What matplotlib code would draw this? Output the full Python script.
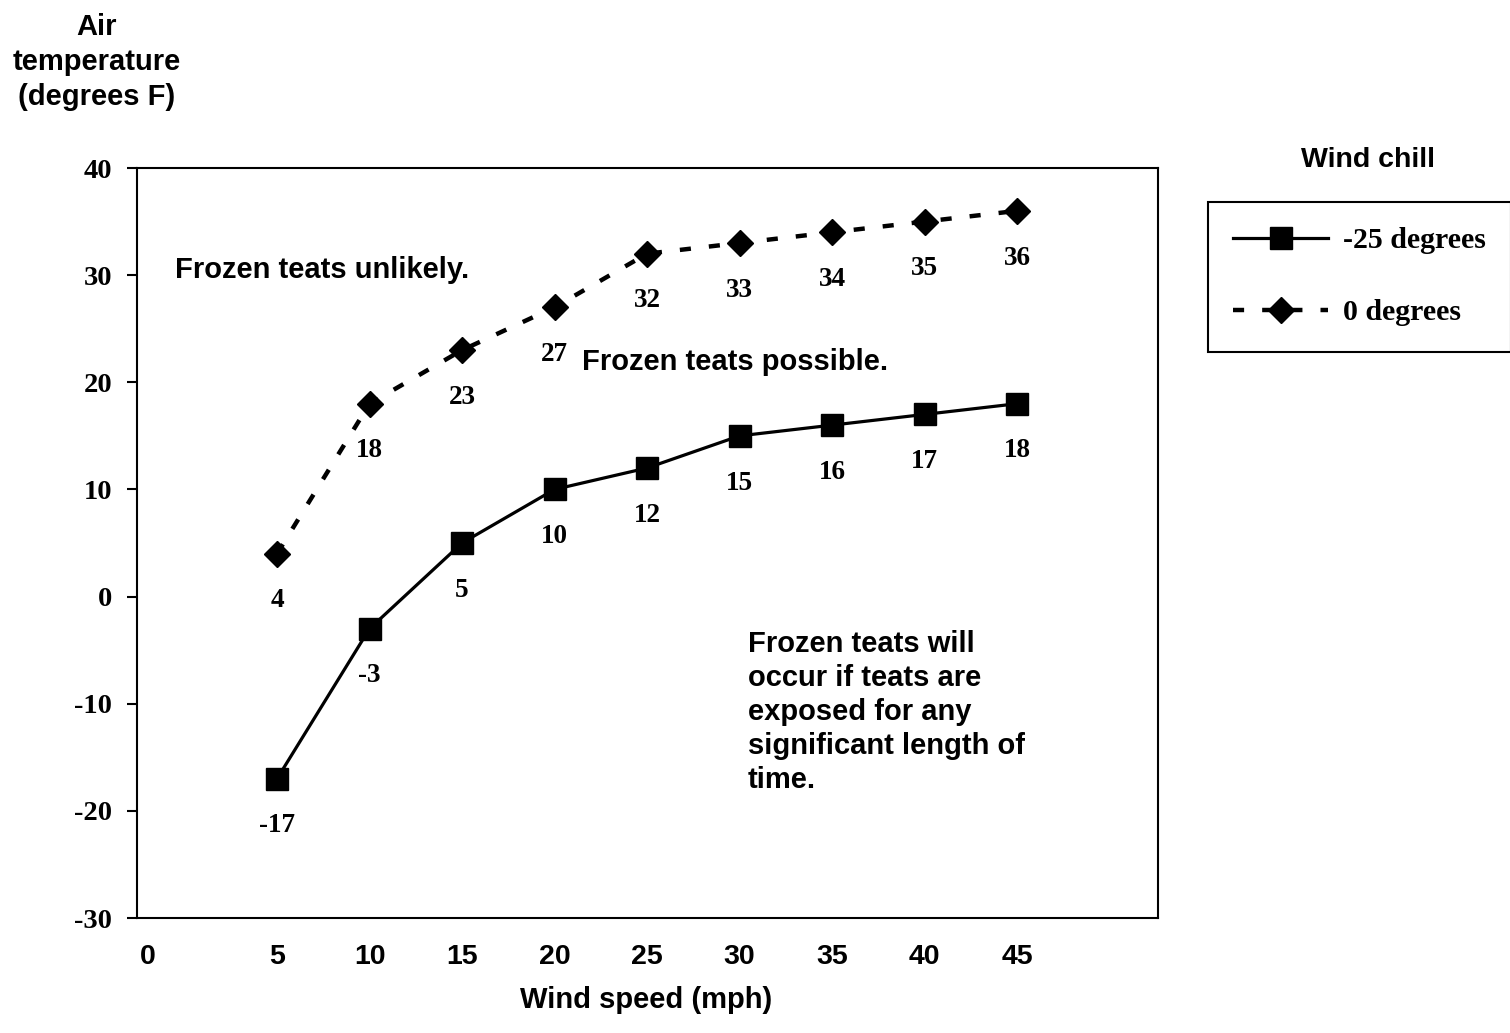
import matplotlib
matplotlib.use("Agg")
import matplotlib.pyplot as plt

# wind speed (mph) and air temperature (F) giving each wind chill
wind_speed = [5, 10, 15, 20, 25, 30, 35, 40, 45]
chill_minus25 = [-17, -3, 5, 10, 12, 15, 16, 17, 18]
chill_zero = [4, 18, 23, 27, 32, 33, 34, 35, 36]

x_tick_pos = [-2, 5, 10, 15, 20, 25, 30, 35, 40, 45]
x_tick_labels = ['0', '5', '10', '15', '20', '25', '30', '35', '40', '45']
y_ticks = [-30, -20, -10, 0, 10, 20, 30, 40]
y_tick_labels = ['-30', '-20', '-10', '0', '10', '20', '30', '40']

series_names = ['-25 degrees', '0 degrees']

SERIF = 'Liberation Serif'
SANS = 'Liberation Sans'

plt.rcParams['lines.scale_dashes'] = False

fig = plt.figure(figsize=(15.1, 10.33), dpi=100)
ax = fig.add_axes([137 / 1510, 1 - 918 / 1033, (1158 - 137) / 1510, (918 - 168) / 1033])

l1, = ax.plot(wind_speed, chill_minus25, color='black', linewidth=2.3,
              marker='s', markersize=16.5, markerfacecolor='black',
              markeredgecolor='black', label=series_names[0], zorder=3)
l2, = ax.plot(wind_speed, chill_zero, color='black', linewidth=3.2,
              dashes=(8, 13), marker='D', markersize=13, markerfacecolor='black',
              markeredgecolor='black', label=series_names[1], zorder=3)

for xs, ys in [(wind_speed, chill_minus25), (wind_speed, chill_zero)]:
    for x, y in zip(xs, ys):
        ax.annotate(str(y), (x, y), xytext=(0, -34), textcoords='offset points',
                    ha='center', va='center', fontsize=19.5, fontweight='bold',
                    family=SERIF)

ax.set_xlim(-2.57, 52.62)
ax.set_ylim(-30, 40)

ax.set_xticks(x_tick_pos)
ax.set_xticklabels(x_tick_labels, fontsize=20.5, fontweight='bold', family=SANS)
ax.tick_params(axis='x', length=0, pad=19)

ax.set_yticks(y_ticks)
ax.set_yticklabels(y_tick_labels, fontsize=20.5, fontweight='bold', family=SERIF)
ax.tick_params(axis='y', length=7, width=1.5, pad=11, direction='out')

for sp in ax.spines.values():
    sp.set_linewidth(1.5)
    sp.set_color('black')

# region notes
ax.text(-0.5, 30.5, 'Frozen teats unlikely.', ha='left', va='center',
        fontsize=21, fontweight='bold', family=SANS)
ax.text(21.5, 21.9, 'Frozen teats possible.', ha='left', va='center',
        fontsize=21, fontweight='bold', family=SANS)
ax.text(30.45, -3.1, 'Frozen teats will\noccur if teats are\nexposed for any\nsignificant length of\ntime.',
        ha='left', va='top', fontsize=21, fontweight='bold', family=SANS, linespacing=1.27)

fig.text(97 / 1510, 1 - 62 / 1033, 'Air\ntemperature\n(degrees F)', ha='center', va='center',
         fontsize=21, fontweight='bold', family=SANS, linespacing=1.3)
fig.text(1368 / 1510, 1 - 160 / 1033, 'Wind chill', ha='center', va='center',
         fontsize=20.5, fontweight='bold', family=SANS)
fig.text(646 / 1510, 1 - 1000 / 1033, 'Wind speed (mph)', ha='center', va='center',
         fontsize=21, fontweight='bold', family=SANS)

leg = fig.legend(handles=[l1, l2], loc='upper left',
                 bbox_to_anchor=(1208 / 1510, 1 - 202 / 1033),
                 prop={'family': SERIF, 'weight': 'bold', 'size': 21.5},
                 handlelength=3.17, handletextpad=0.5, borderpad=0.85,
                 labelspacing=1.5, fancybox=False, edgecolor='black',
                 framealpha=1, borderaxespad=0)
leg.get_frame().set_linewidth(1.5)

fig.savefig('out.png', dpi=100)
